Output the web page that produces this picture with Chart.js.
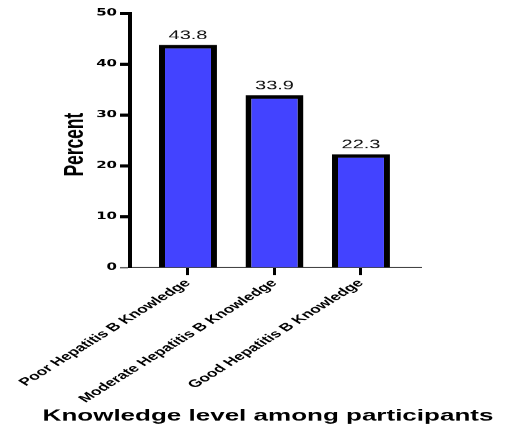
<!DOCTYPE html>
<html>
<head>
<meta charset="utf-8">
<script src="https://cdn.jsdelivr.net/npm/chart.js@4"></script>
<style>
  html, body { margin: 0; padding: 0; background: #ffffff; }
  #wrap { width: 505px; height: 433px; overflow: hidden; }
</style>
</head>
<body>
<div id="wrap"><canvas id="c" width="505" height="698" style="display:block;width:505px;height:433px;"></canvas></div>
<script>
const categories = ['Poor Hepatitis B Knowledge', 'Moderate Hepatitis B Knowledge', 'Good Hepatitis B Knowledge'];
const values = [43.8, 33.9, 22.3];
const yTicks = [0, 10, 20, 30, 40, 50];
const xTitle = 'Knowledge level among participants';
const yTitle = 'Percent';

const SANS = '"Liberation Sans", Arial, Helvetica, sans-serif';

const valueLabels = {
  id: 'valueLabels',
  afterDatasetsDraw(chart) {
    const ctx = chart.ctx;
    const meta = chart.getDatasetMeta(0);
    ctx.save();
    ctx.font = '20px ' + SANS;
    ctx.fillStyle = '#111111';
    ctx.textAlign = 'center';
    ctx.textBaseline = 'middle';
    meta.data.forEach((bar, i) => {
      ctx.fillText(values[i].toFixed(1), bar.x, bar.y - 15);
    });
    ctx.restore();
  }
};

const axisTitles = {
  id: 'axisTitles',
  afterDraw(chart) {
    const ctx = chart.ctx;
    ctx.save();
    ctx.fillStyle = '#000000';
    ctx.textAlign = 'center';
    ctx.textBaseline = 'middle';
    ctx.font = 'bold 26px ' + SANS;
    ctx.fillText(xTitle, 268, 671);
    ctx.translate(75, 233);
    ctx.rotate(-Math.PI / 2);
    ctx.font = 'bold 28px ' + SANS;
    ctx.fillText(yTitle, 0, 0);
    ctx.restore();
  }
};

new Chart(document.getElementById('c'), {
  type: 'bar',
  data: {
    datasets: [{
      data: values.map((v, i) => ({ x: i, y: v })),
      backgroundColor: '#4343FF',
      borderColor: '#000000',
      borderWidth: 6,
      borderSkipped: 'start',
      barPercentage: 0.67,
      categoryPercentage: 1.0
    }]
  },
  options: {
    responsive: false,
    animation: false,
    devicePixelRatio: 1,
    layout: { padding: { left: 0, right: 84, top: 21.4, bottom: 0 } },
    plugins: { legend: { display: false }, tooltip: { enabled: false } },
    scales: {
      x: {
        type: 'linear',
        offset: false,
        min: -0.6705,
        max: 2.694,
        afterBuildTicks(scale) { scale.ticks = categories.map((c, i) => ({ value: i })); },
        afterFit(scale) {
          scale.height = 698 - 431.2;
          scale.paddingLeft = 0;
          scale.paddingRight = 0;
        },
        ticks: {
          autoSkip: false,
          minRotation: 45,
          maxRotation: 45,
          padding: 3,
          color: '#000000',
          font: { family: SANS, size: 17.5, weight: 'bold' },
          callback: (v) => categories[v] !== undefined ? categories[v] : ''
        },
        grid: {
          offset: false,
          drawOnChartArea: false,
          drawTicks: true,
          tickLength: 12,
          tickWidth: 3,
          tickColor: '#000000'
        },
        border: { display: true, color: '#444444', width: 2 },
        title: { display: false }
      },
      y: {
        type: 'linear',
        min: 0,
        max: 50,
        afterBuildTicks(scale) { scale.ticks = yTicks.map(v => ({ value: v })); },
        afterFit(scale) { scale.width = 130; },
        ticks: {
          padding: 3,
          color: '#000000',
          font: { family: '"DejaVu Sans", sans-serif', size: 15, weight: 'bold' }
        },
        grid: {
          drawOnChartArea: false,
          drawTicks: true,
          tickLength: 10,
          tickWidth: (ctx) => (ctx.tick && ctx.tick.value === 0) ? 2 : 5,
          tickColor: (ctx) => (ctx.tick && ctx.tick.value === 0) ? '#444444' : '#000000'
        },
        border: { display: true, color: '#000000', width: 4 },
        title: { display: false }
      }
    }
  },
  plugins: [valueLabels, axisTitles]
});
</script>
</body>
</html>
